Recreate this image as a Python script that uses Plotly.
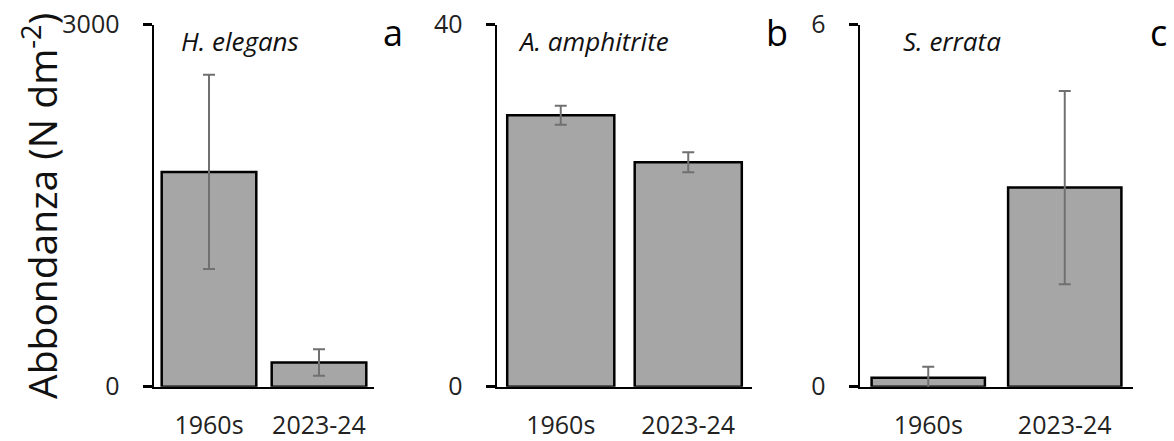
import plotly.graph_objects as go

categories = ["1960s", "2023-24"]

species = ["H. elegans", "A. amphitrite", "S. errata"]
panel_letters = ["a", "b", "c"]

h_elegans = [1780, 200]
h_elegans_err = [805, 110]

a_amphitrite = [30.0, 24.8]
a_amphitrite_err = [1.05, 1.1]

s_errata = [0.15, 3.30]
s_errata_err = [0.18, 1.6]

y_max = [3000, 40, 6]
y_ticks = [[0, 3000], [0, 40], [0, 6]]

values = [h_elegans, a_amphitrite, s_errata]
errors = [h_elegans_err, a_amphitrite_err, s_errata_err]

W, H = 1174, 441
FONT = "Open Sans"
TXT = "#222222"

# panel geometry (pixels)
x_domains_px = [(154, 374), (497, 752), (860, 1133)]
bar_widths = [0.86, 0.84, 0.83]
y_bottom_px, y_top_px = 386.7, 24.7
y_domain = [(H - y_bottom_px) / H, (H - y_top_px) / H]

fig = go.Figure()
for i in range(3):
    ax = "" if i == 0 else str(i + 1)
    fig.add_trace(go.Bar(
        x=categories, y=values[i],
        width=bar_widths[i],
        marker=dict(color="#A6A6A6", line=dict(color="#000000", width=2.5)),
        error_y=dict(type="data", array=errors[i], symmetric=True,
                     color="#707070", thickness=2, width=6),
        xaxis="x" + ax, yaxis="y" + ax, showlegend=False, hoverinfo="skip",
    ))
    x0, x1 = x_domains_px[i]
    fig.layout["xaxis" + ax] = dict(
        domain=[x0 / W, x1 / W], anchor="y" + ax, automargin=False,
        range=[-0.5, 1.5], showline=True, linecolor="#000000", linewidth=2.5,
        ticks="", showgrid=False, zeroline=False,
        tickfont=dict(family=FONT, size=25, color=TXT),
        ticklabelstandoff=15, fixedrange=True,
    )
    fig.layout["yaxis" + ax] = dict(
        domain=y_domain, anchor="x" + ax, automargin=False,
        range=[0, y_max[i]], tickvals=y_ticks[i],
        showline=True, linecolor="#000000", linewidth=2.5,
        ticks="outside", ticklen=9, tickwidth=2.5, tickcolor="#000000",
        showgrid=False, zeroline=False,
        tickfont=dict(family=FONT, size=25, color=TXT),
        ticklabelstandoff=18, fixedrange=True,
    )

annotations = []
title_x_px = [179, 516, 901]
letter_x_px = [405, 790, 1169]
for i in range(3):
    annotations.append(dict(
        text="<i>" + species[i] + "</i>", xref="paper", yref="paper",
        x=title_x_px[i] / W, y=(H - 41) / H, xanchor="left", yanchor="middle",
        showarrow=False, font=dict(family=FONT, size=26, color="#111111"),
    ))
    annotations.append(dict(
        text=panel_letters[i], xref="paper", yref="paper",
        x=letter_x_px[i] / W, y=(H - 33) / H, xanchor="right", yanchor="middle",
        showarrow=False, font=dict(family=FONT, size=36, color="#000000"),
    ))

annotations.append(dict(
    text="Abbondanza (N dm<sup>-2</sup>)", xref="paper", yref="paper",
    x=40 / W, y=(H - 206) / H, xanchor="center", yanchor="middle",
    textangle=-90, showarrow=False,
    font=dict(family=FONT, size=39, color="#111111"),
))

fig.update_layout(
    width=W, height=H,
    margin=dict(l=0, r=0, t=0, b=0, autoexpand=False),
    paper_bgcolor="white", plot_bgcolor="white",
    annotations=annotations,
)

fig.write_html(
    "out.html",
    config={"displayModeBar": False, "staticPlot": True},
    post_script="document.body.style.margin='0';document.body.style.overflow='hidden';",
)
